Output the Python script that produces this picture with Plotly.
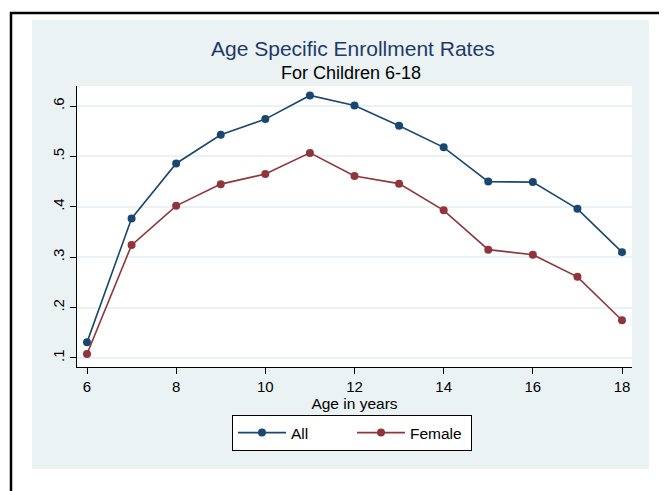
import plotly.graph_objects as go

ages = [6, 7, 8, 9, 10, 11, 12, 13, 14, 15, 16, 17, 18]
all_rates = [0.131, 0.377, 0.486, 0.543, 0.574, 0.621, 0.601, 0.561, 0.518, 0.450, 0.449, 0.396, 0.310]
female_rates = [0.108, 0.324, 0.402, 0.445, 0.465, 0.507, 0.461, 0.446, 0.393, 0.315, 0.305, 0.261, 0.175]

x_ticks = [6, 8, 10, 12, 14, 16, 18]
y_ticks = [0.1, 0.2, 0.3, 0.4, 0.5, 0.6]
y_tick_labels = [".1", ".2", ".3", ".4", ".5", ".6"]

title_text = "Age Specific Enrollment Rates"
subtitle_text = "For Children 6-18"
x_title = "Age in years"

# the page body has an 8px margin; build the figure to fill the remaining area
OFF = 8
W, H = 667 - OFF, 491 - OFF
# plot area in page pixels
L, R, T, B = 77, 632, 86, 367
pw, ph = R - L, B - T


def px(x):
    return (x - L) / pw


def py(y):
    return (B - y) / ph


FONT = "Liberation Sans, Arial, sans-serif"
NAVY = "#1a476f"
MAROON = "#90353b"
PANEL = "#eaf2f3"

fig = go.Figure()
fig.add_trace(go.Scatter(
    x=ages, y=all_rates, name="All", mode="lines+markers",
    line=dict(color=NAVY, width=1.6),
    marker=dict(color=NAVY, size=8, symbol="circle"),
))
fig.add_trace(go.Scatter(
    x=ages, y=female_rates, name="Female", mode="lines+markers",
    line=dict(color=MAROON, width=1.6),
    marker=dict(color=MAROON, size=8, symbol="circle"),
))

shapes = [
    dict(type="rect", xref="paper", yref="paper", x0=px(32), x1=px(649), y0=py(469), y1=py(20),
         fillcolor=PANEL, line=dict(width=0), layer="below"),
    dict(type="rect", xref="paper", yref="paper", x0=0, x1=1, y0=0, y1=1,
         fillcolor="white", line=dict(width=0), layer="below"),
    dict(type="line", xref="paper", yref="paper", x0=px(10), x1=px(690), y0=py(13), y1=py(13),
         line=dict(color="black", width=2.5)),
    dict(type="line", xref="paper", yref="paper", x0=px(11), x1=px(11), y0=py(12), y1=py(520),
         line=dict(color="black", width=2.5)),
]

annotations = [
    dict(text=title_text, xref="paper", yref="paper", x=px(353), y=py(48),
         xanchor="center", yanchor="middle", showarrow=False,
         font=dict(family=FONT, size=21, color="#1e3a68")),
    dict(text=subtitle_text, xref="paper", yref="paper", x=px(351), y=py(73),
         xanchor="center", yanchor="middle", showarrow=False,
         font=dict(family=FONT, size=18, color="black")),
]

fig.update_layout(
    width=W, height=H,
    margin=dict(l=L - OFF, r=667 - R, t=T - OFF, b=491 - B, pad=0),
    paper_bgcolor="white",
    plot_bgcolor="white",
    font=dict(family=FONT, size=15, color="black"),
    shapes=shapes,
    annotations=annotations,
    showlegend=True,
    legend=dict(
        orientation="h", x=px(352), xanchor="center", y=py(415), yanchor="top",
        bgcolor="white", bordercolor="black", borderwidth=1,
        font=dict(family=FONT, size=15.5, color="black"),
        itemwidth=48, entrywidth=56, entrywidthmode="pixels",
    ),
    xaxis=dict(
        range=[6 - 10 / 44.6, 18 + 10 / 44.6],
        tickvals=x_ticks, ticks="outside", ticklen=6, tickcolor="black", tickwidth=1,
        showline=True, linecolor="black", linewidth=1, mirror=False,
        showgrid=False, zeroline=False,
        tickfont=dict(size=15, color="black"),
        ticklabelstandoff=0,
        title=dict(text=x_title, font=dict(size=15.5, color="black"), standoff=0),
        automargin=False,
    ),
    yaxis=dict(
        range=[0.1 - 9 / 503.5, 0.6 + 20 / 503.5],
        tickvals=y_ticks, ticktext=y_tick_labels, tickangle=-90,
        ticks="outside", ticklen=6, tickcolor="black", tickwidth=1,
        showline=True, linecolor="black", linewidth=1,
        showgrid=True, gridcolor=PANEL, gridwidth=1.6,
        zeroline=False,
        tickfont=dict(size=15, color="black"),
        automargin=False,
    ),
)

fig.write_html("out.html")
